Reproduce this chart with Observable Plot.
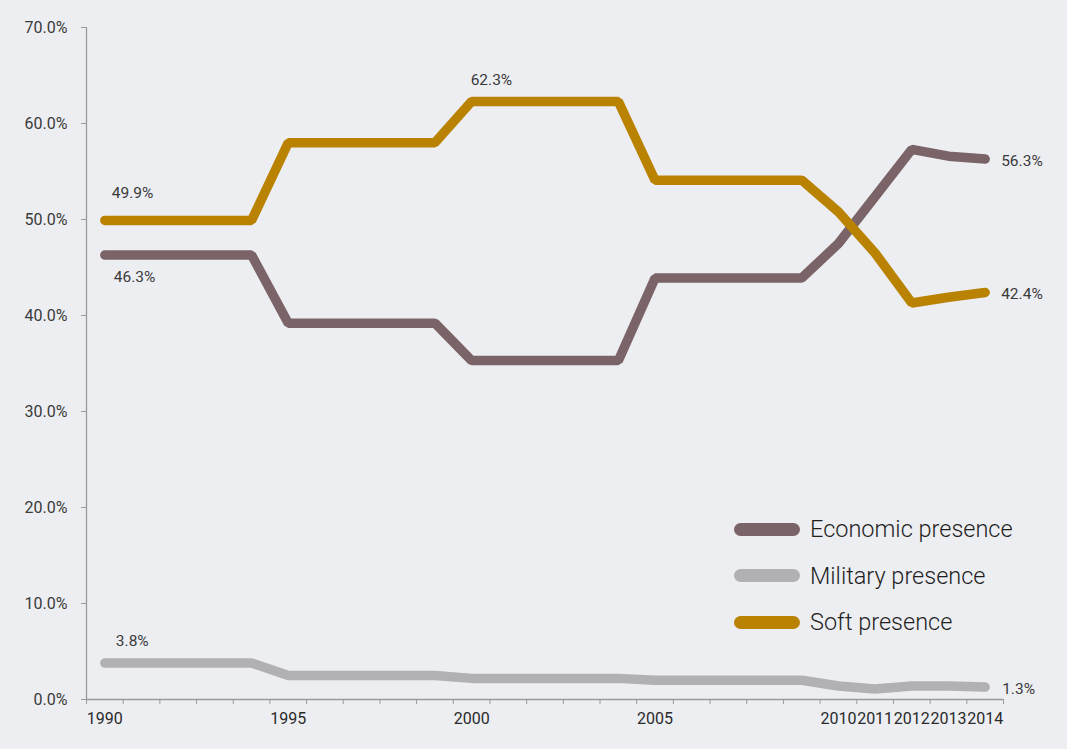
<!DOCTYPE html>
<html>
<head>
<meta charset="utf-8">
<script src="https://cdn.jsdelivr.net/npm/d3@7"></script>
<script src="https://cdn.jsdelivr.net/npm/@observablehq/plot@0.6"></script>
<style>
  html, body { margin: 0; padding: 0; background: #edeef2; }
  #wrap { position: relative; width: 1067px; height: 749px; font-family: Roboto, sans-serif; }
  #legend { position: absolute; left: 734px; top: 506px; }
  .li { display: flex; align-items: center; height: 46.5px; }
  .sw { width: 66px; height: 13px; border-radius: 7px; margin-right: 10px; }
  .lt { font-size: 23.5px; color: #1f1f1f; font-weight: 300; }
</style>
</head>
<body>
<div id="wrap"></div>
<script>
const years = [1990,1991,1992,1993,1994,1995,1996,1997,1998,1999,2000,2001,2002,2003,2004,2005,2006,2007,2008,2009,2010,2011,2012,2013,2014];
const economic = [46.3,46.3,46.3,46.3,46.3,39.2,39.2,39.2,39.2,39.2,35.3,35.3,35.3,35.3,35.3,43.9,43.9,43.9,43.9,43.9,47.5,52.4,57.3,56.6,56.3];
const military = [3.8,3.8,3.8,3.8,3.8,2.5,2.5,2.5,2.5,2.5,2.2,2.2,2.2,2.2,2.2,2.0,2.0,2.0,2.0,2.0,1.4,1.1,1.4,1.4,1.3];
const soft = [49.9,49.9,49.9,49.9,49.9,58.0,58.0,58.0,58.0,58.0,62.3,62.3,62.3,62.3,62.3,54.1,54.1,54.1,54.1,54.1,50.8,46.5,41.3,41.9,42.4];
const seriesNames = ["Economic presence","Military presence","Soft presence"];
const seriesColors = ["#7b6467","#b1b0b5","#b98200"];
const xLabelYears = [1990,1995,2000,2005,2010,2011,2012,2013,2014];
const yTicks = [0,10,20,30,40,50,60,70];

const seriesValues = [economic, military, soft];
const rows = [];
seriesNames.forEach((s, i) => years.forEach((y, j) => rows.push({series: s, year: y, value: seriesValues[i][j]})));

const annos = [
  {year: years[0], value: soft[0], dx: 7, dy: -27},
  {year: years[0], value: economic[0], dx: 9, dy: 22},
  {year: years[10], value: soft[10], dx: -1, dy: -21},
  {year: years[0], value: military[0], dx: 11, dy: -22},
  {year: years[24], value: economic[24], dx: 16, dy: 2},
  {year: years[24], value: soft[24], dx: 16, dy: 2},
  {year: years[24], value: military[24], dx: 17, dy: 2}
];
const boundaries = years.map(y => y - 0.5).concat([years[years.length - 1] + 0.5]);
const axisColor = "#9a9a9a";
const textColor = "#3a3a3a";

const chart = Plot.plot({
  width: 1067,
  height: 749,
  marginLeft: 86,
  marginRight: 64,
  marginTop: 27,
  marginBottom: 50,
  style: {background: "#edeef2", fontFamily: "Roboto, sans-serif", fontSize: "16px", color: textColor},
  x: {domain: [boundaries[0], boundaries[boundaries.length - 1]]},
  y: {domain: [0, 70]},
  color: {domain: seriesNames, range: seriesColors},
  marks: [
    Plot.ruleX([boundaries[0]], {y1: 0, y2: 70, stroke: axisColor, strokeWidth: 1.3}),
    Plot.ruleY([0], {stroke: axisColor, strokeWidth: 1.3}),
    Plot.axisY({ticks: yTicks, tickFormat: d => d.toFixed(1) + "%", tickSize: 5, tickPadding: 14, stroke: axisColor, fill: textColor, fontSize: 16, label: null}),
    Plot.axisX({ticks: boundaries, tickFormat: () => "", tickSize: 5, stroke: axisColor, label: null}),
    Plot.axisX({ticks: xLabelYears, tickFormat: d => String(d), tickSize: 0, tickPadding: 13, fill: "#2a2a2a", fontSize: 16, label: null}),
    Plot.line(rows, {x: "year", y: "value", z: "series", stroke: "series", strokeWidth: 9.5, strokeLinecap: "round", strokeLinejoin: "miter"}),
    ...annos.map(a => Plot.text([a], {x: "year", y: "value", text: d => d.value.toFixed(1) + "%", textAnchor: "start", dx: a.dx, dy: a.dy, fill: textColor, fontSize: 15.5}))
  ]
});

const wrap = document.getElementById("wrap");
wrap.appendChild(chart);
const legend = document.createElement("div");
legend.id = "legend";
seriesNames.forEach((s, i) => {
  const li = document.createElement("div");
  li.className = "li";
  li.innerHTML = `<div class="sw" style="background:${seriesColors[i]}"></div><div class="lt">${s}</div>`;
  legend.appendChild(li);
});
wrap.appendChild(legend);
</script>
</body>
</html>
